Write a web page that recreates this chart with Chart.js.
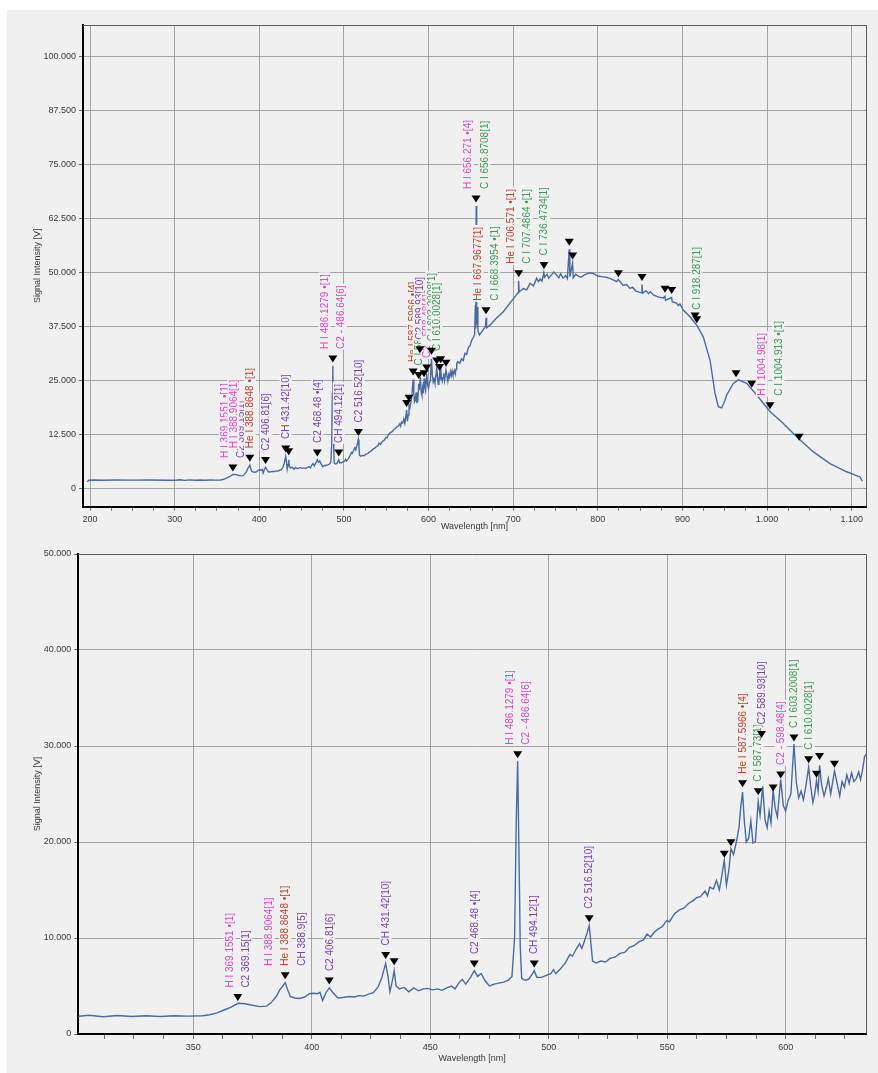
<!DOCTYPE html>
<html>
<head>
<meta charset="utf-8">
<script src="https://cdn.jsdelivr.net/npm/chart.js@4.4.1/dist/chart.umd.min.js"></script>
<style>
  body { margin: 0; background: #fff; }
  #panel { position: absolute; left: 7px; top: 10px; width: 871px; height: 1063px; background: #f0f0f0; }
  canvas { position: absolute; left: 7px; }
  #specFull { top: 10px; }
  #specZoom { top: 535px; }
</style>
</head>
<body>
<div id="panel"></div>
<canvas id="specFull" width="871" height="525"></canvas>
<canvas id="specZoom" width="871" height="538"></canvas>
<script>
// spectrum, wavelength in nm, signal in thousands (axis shows 12.500 etc.)
const wavelength = [
  196.8, 198.5, 205, 215, 230, 250, 270, 290, 301.5, 306,
  312, 318, 324, 330, 336, 342, 348, 354, 357,
  360, 363, 366, 369, 372, 375, 378, 381, 383, 385,
  386.5, 387.5, 388.8, 390, 391, 393, 395, 397, 399, 401,
  402.5, 403.5, 404.6, 406, 407.4, 409, 411, 413, 416, 418,
  420, 422, 424, 426, 428, 429.5, 431.2, 432.2, 433, 434,
  434.8, 435.6, 437, 439, 441, 443, 445, 447, 449,
  451, 453, 455, 457, 459, 460.5, 462, 463.5, 465, 467,
  468.6, 470, 471.5, 473, 475, 477, 479, 481, 483, 484.5,
  485.6, 486.3, 486.9, 487.4, 488, 488.6, 490, 491.5, 493, 493.9,
  495, 497, 499, 501, 502, 503, 505, 507, 509, 510,
  511.5, 513, 514, 515, 516.3, 517.1, 517.8, 518.5,
  520, 522, 524, 526, 528, 530, 532, 534, 536, 538,
  540, 541.5, 543, 544.5, 546, 548, 549.7, 551, 553, 555,
  557, 559, 561, 562.4, 564, 566, 567, 568, 569.5, 570.8,
  572, 573, 574.1, 575, 576, 576.9, 578, 579.2,
  580.3, 581, 581.8, 582.6, 583.4, 584.4, 585.3, 586.2, 587.2, 588.4,
  589.2, 590.3, 591.3, 592.2, 593, 593.8, 594.7, 595.6, 596.5, 597.9,
  599, 600, 601, 602.2, 603.5, 604.5, 605.5, 606.5, 607.5, 608.5,
  609.7, 610.6, 611.5, 612.3, 613, 613.7, 614.3, 615.2, 616.2, 617.2,
  618, 619, 620.6, 621.8, 622.8, 623.8, 624.8, 625.8, 626.8, 627.8,
  628.8, 629.8, 630.8, 631.6, 632.5, 633.3, 634.5,
  637, 639, 641, 643, 645, 647, 649, 651, 653, 654.5,
  655.3, 655.8, 656.3, 656.9, 657.6, 658.3, 660, 664, 667.3, 667.9,
  668.6, 672.6, 680, 688.4, 695, 702.2, 705.8, 706.4, 707.1, 712,
  716, 720, 724, 727.8, 730, 732, 734, 736.2, 737, 740,
  742, 745, 748, 751.4, 754, 756, 759, 762, 764, 766.2,
  767, 770.2, 771, 774, 776, 780, 785, 790, 794.7, 800,
  806.6, 810, 815, 822.3, 824.2, 830, 834, 838, 841, 845,
  851.5, 852.2, 853, 857, 860, 862, 865.6, 872, 877.4, 879.3,
  880, 887.2, 888, 893, 895, 897, 901, 908, 914.8, 916.9,
  924.6, 932.6, 938.5, 942.4, 946.4, 950, 952.3, 960.1, 966, 975.9,
  987.7, 1003.5, 1019.2, 1035, 1054.7, 1074.4, 1094.1, 1109.8, 1112.6
];
const signal = [
  1.45, 1.85, 1.9, 1.85, 1.9, 1.86, 1.9, 1.85, 1.85, 1.95,
  1.8, 1.92, 1.82, 1.9, 1.83, 1.9, 1.86, 1.9, 2.0,
  2.2, 2.5, 2.8, 3.2, 3.15, 3.0, 2.85, 2.9, 3.3, 3.9,
  4.6, 4.9, 5.35, 4.5, 3.9, 3.75, 3.7, 3.85, 4.2, 4.25,
  4.2, 4.35, 3.5, 4.3, 4.8, 4.3, 3.75, 3.8, 3.9, 3.85,
  4.0, 3.95, 4.15, 4.3, 4.9, 5.8, 7.35, 6.0, 4.4, 5.5,
  6.6, 5.0, 4.7, 4.85, 4.4, 4.8, 4.5, 4.7, 4.75,
  4.6, 4.7, 4.55, 4.8, 5.0, 4.7, 5.3, 5.7, 5.2, 5.9,
  6.6, 6.0, 6.3, 5.6, 5.0, 5.2, 5.3, 5.4, 5.6, 6.0,
  10, 22, 28.4, 20, 9, 5.8, 5.6, 5.7, 6.2, 6.6,
  5.9, 5.9, 6.1, 6.3, 6.7, 6.3, 6.8, 7.4, 8.3, 8.1,
  8.8, 9.4, 8.9, 9.6, 10.6, 11.3, 9.5, 7.6,
  7.4, 7.6, 7.5, 7.9, 8.0, 8.4, 8.5, 9.0, 9.2, 9.6,
  9.8, 10.4, 10.1, 10.6, 10.9, 11.2, 11.8, 11.7, 12.5, 12.9,
  13.1, 13.6, 13.9, 14.2, 14.3, 14.9, 14.4, 15.3, 15.1, 16.0,
  15.0, 16.4, 18.1, 15.5, 17.0, 19.3, 18.7, 20.0,
  21.5, 23.5, 25.2, 22.0, 20.0, 20.4, 22.2, 19.9, 20.0, 24.2,
  22.8, 25.8, 22.3, 21.5, 23.2, 22.0, 25.4, 23.5, 22.6, 26.5,
  23.8, 23.2, 24.3, 25.0, 30.2, 26.2, 24.6, 25.3, 24.4, 25.8,
  27.8, 25.7, 24.1, 25.0, 26.4, 25.3, 28.0, 25.9, 24.8, 25.7,
  26.6, 25.0, 27.4, 26.0, 24.8, 26.3, 25.7, 27.0, 26.1, 27.2,
  26.3, 26.6, 27.3, 26.5, 27.6, 28.9, 29.3,
  29.0, 30.0, 29.6, 31.3, 31.0, 32.6, 33.0, 34.3, 35.0, 35.6,
  42.4, 37.0, 65.4, 38.0, 42.0, 36.5, 35.5, 36.6, 37.5, 39.5,
  37.2, 37.8, 39.4, 40.9, 42.6, 44.4, 45.3, 48.1, 45.5, 46.3,
  46.0, 47.5, 46.9, 48.7, 47.9, 48.5, 48.0, 50.0, 48.9, 49.6,
  48.7, 49.4, 50.1, 49.4, 48.8, 49.7, 48.7, 49.3, 48.6, 55.4,
  49.0, 52.2, 48.8, 49.6, 49.3, 48.9, 49.5, 49.9, 49.8, 49.2,
  49.0, 48.9, 48.6, 47.9, 48.4, 47.0, 47.2, 46.3, 46.6, 45.7,
  45.3, 47.2, 45.2, 45.8, 45.1, 45.6, 44.8, 44.3, 44.1, 44.5,
  43.6, 44.2, 43.2, 42.9, 42.3, 42.7, 41.3, 39.9, 38.3, 37.8,
  35.1, 29.7, 22.0, 18.9, 18.6, 20.2, 21.6, 24.3, 25.1, 24.3,
  21.6, 17.8, 15.0, 11.9, 8.4, 5.7, 3.8, 2.6, 1.6
];

// peak markers (black triangles)
const markerWl = [368.8, 388.8, 407.4, 431.2, 434.8, 468.6, 486.9, 493.9, 517.1, 574.1,
  576.9, 581.8, 588.4, 589.8, 594.7, 597.9, 603.5, 609.7, 613.0, 614.3,
  620.6, 656.1, 667.9, 706.5, 736.4, 766.3, 770.3, 824.3, 852.2, 879.4,
  887.3, 914.9, 916.9, 963.3, 981.8, 1003.5, 1037.8];
const markerPeak = [3.06, 5.33, 4.78, 7.46, 6.80, 6.55, 28.35, 6.55, 11.28, 18.0,
  19.2, 25.34, 24.5, 30.48, 24.9, 26.26, 30.11, 27.84, 26.33, 28.17,
  27.36, 65.4, 39.5, 48.1, 50.0, 55.4, 52.2, 48.1, 47.2, 44.5,
  44.2, 38.3, 37.4, 24.9, 22.5, 17.5, 10.2];

// line identifications, each attached to a marker
const labelAt = [368.8, 368.8, 388.8, 388.8, 388.8, 407.4, 431.2, 468.6, 486.9, 486.9,
  493.9, 517.1, 581.8, 588.4, 589.8, 597.9, 603.5, 609.7, 656.1, 656.1,
  667.9, 667.9, 706.5, 706.5, 736.4, 916.9, 1003.5, 1003.5];
const labelText = ['H I 369.1551 •[1]', 'C2 369.15[1]', 'H I 388.9064[1]', 'He I 388.8648 •[1]', 'CH 388.9[5]',
  'C2 406.81[6]', 'CH 431.42[10]', 'C2 468.48 •[4]', 'H I 486.1279 •[1]', 'C2 - 486.64[6]',
  'CH 494.12[1]', 'C2 516.52[10]', 'He I 587.5966 •[4]', 'C I 587.73[1]', 'C2 589.93[10]',
  'C2 - 598.48[4]', 'C I 603.2008[1]', 'C I 610.0028[1]', 'H I 656.271 •[4]', 'C I 656.8708[1]',
  'He I 667.9677[1]', 'C I 668.3954 •[1]', 'He I 706.571 •[1]', 'C I 707.4864 •[1]', 'C I 736.4734[1]',
  'C I 918.287[1]', 'H I 1004.98[1]', 'C I 1004.913 •[1]'];
const labelSpecies = ['H', 'C2', 'H', 'He', 'CH', 'C2', 'CH', 'C2', 'H', 'C2-',
  'CH', 'C2', 'He', 'C', 'C2', 'C2-', 'C', 'C', 'H', 'C',
  'He', 'C', 'He', 'C', 'C', 'C', 'H', 'C'];

// axis ticks
const xMajorFull = [200, 300, 400, 500, 600, 700, 800, 900, 1000, 1100];
const xMajorZoom = [350, 400, 450, 500, 550, 600];
const yTicksFull = [0, 12.5, 25, 37.5, 50, 62.5, 75, 87.5, 100];
const yTicksZoom = [0, 10, 20, 30, 40, 50];

const speciesColor = { 'H': '#d84ac6', 'C2-': '#d84ac6', 'He': '#c0432a', 'C': '#3c9a56', 'C2': '#7a42b4', 'CH': '#7a42b4' };
const FONT = '"Liberation Sans", Arial, sans-serif';

function withMinor(majors, step, min, max) {
  const out = [];
  for (let v = majors[0] - step * Math.floor((majors[0] - min) / step); v <= max; v += step) {
    out.push({ value: Math.round(v * 100) / 100 });
  }
  return out;
}

function fmtThousands(v) {
  if (v >= 1000) return Math.floor(v / 1000) + '.' + String(v % 1000).padStart(3, '0');
  return String(v);
}

const lineMarks = {
  id: 'lineMarks',
  afterDatasetsDraw(chart) {
    const { ctx, chartArea: a, scales: { x, y } } = chart;
    const inRange = wl => wl >= x.min && wl <= x.max;
    const triY = wl => y.getPixelForValue(markerPeak[markerWl.indexOf(wl)]) - 7;
    ctx.save();
    ctx.beginPath();
    ctx.rect(a.left, a.top, a.right - a.left, a.bottom - a.top);
    ctx.clip();
    ctx.font = '10px ' + FONT;
    ctx.textBaseline = 'middle';
    labelAt.forEach((wl, i) => {
      if (!inRange(wl)) return;
      const group = [];
      labelAt.forEach((w, j) => { if (w === wl) group.push(j); });
      const k = group.indexOf(i);
      const px = x.getPixelForValue(wl) + (k - (group.length - 1) / 2) * 16.5;
      const py = triY(wl) - 10;
      const w = ctx.measureText(labelText[i]).width;
      ctx.save();
      ctx.translate(px, py);
      ctx.rotate(-Math.PI / 2);
      ctx.fillStyle = '#f0f0f0';
      ctx.fillRect(-1, -6, w + 3, 12);
      ctx.fillStyle = speciesColor[labelSpecies[i]];
      ctx.fillText(labelText[i], 0, 0.5);
      ctx.restore();
    });
    ctx.fillStyle = '#000';
    markerWl.forEach(wl => {
      if (!inRange(wl)) return;
      const cx = x.getPixelForValue(wl), cy = triY(wl);
      ctx.beginPath();
      ctx.moveTo(cx - 4.5, cy - 3.5);
      ctx.lineTo(cx + 4.5, cy - 3.5);
      ctx.lineTo(cx, cy + 3.5);
      ctx.closePath();
      ctx.fill();
    });
    ctx.restore();
  },
  afterDraw(chart) {
    // thin frame on top and right
    const { ctx, chartArea: a } = chart;
    ctx.save();
    ctx.strokeStyle = '#5a5a5a';
    ctx.lineWidth = 1;
    ctx.beginPath();
    ctx.moveTo(a.left, a.top + 0.5);
    ctx.lineTo(a.right + 0.5, a.top + 0.5);
    ctx.lineTo(a.right + 0.5, a.bottom);
    ctx.stroke();
    ctx.restore();
  }
};

function buildChart(id, o) {
  const font = { family: FONT, size: 9 };
  return new Chart(document.getElementById(id), {
    type: 'line',
    data: {
      datasets: [{
        data: wavelength.map((w, i) => ({ x: w, y: signal[i] })),
        borderColor: '#4a6aa3',
        borderWidth: 1.4,
        pointRadius: 0,
        tension: 0
      }]
    },
    options: {
      responsive: false,
      animation: false,
      devicePixelRatio: 1,
      layout: { padding: { left: 0, top: o.padTop, right: 12, bottom: 0 } },
      plugins: { legend: { display: false }, tooltip: { enabled: false } },
      scales: {
        x: {
          type: 'linear',
          min: o.xMin,
          max: o.xMax,
          border: { color: '#000', width: 2 },
          grid: {
            color: c => o.xMajor.includes(c.tick.value) ? '#a3a3a3' : 'rgba(0,0,0,0)',
            tickColor: '#6a6a6a',
            tickLength: o.xTickLen
          },
          ticks: {
            autoSkip: false,
            maxRotation: 0,
            padding: 3,
            color: '#3a3a3a',
            font: font,
            callback: v => o.xMajor.includes(v) ? fmtThousands(v) : ''
          },
          title: { display: true, text: 'Wavelength [nm]', color: '#3a3a3a', font: font, padding: { top: 0, bottom: o.xTitlePad } },
          afterBuildTicks: s => { s.ticks = withMinor(o.xMajor, o.xMinorStep, o.xMin, o.xMax); },
          afterFit: s => { s.height = o.xHeight; }
        },
        y: {
          min: o.yMin,
          max: o.yMax,
          border: { color: '#000', width: 2 },
          grid: { color: '#a3a3a3', tickColor: '#6a6a6a', tickLength: 4 },
          ticks: {
            padding: 3,
            color: '#3a3a3a',
            font: font,
            callback: v => v === 0 ? '0' : v.toFixed(3)
          },
          title: { display: true, text: 'Signal Intensity [V]', color: '#3a3a3a', font: font, padding: { top: 25, bottom: 0 } },
          afterBuildTicks: s => { s.ticks = o.yTicks.map(v => ({ value: v })); },
          afterFit: s => { s.width = o.yWidth; }
        }
      }
    },
    plugins: [lineMarks]
  });
}

buildChart('specFull', {
  xMin: 191.7, xMax: 1116.9, xMajor: xMajorFull, xMinorStep: 25,
  yMin: -4.3, yMax: 107.4, yTicks: yTicksFull,
  padTop: 15, yWidth: 76, xHeight: 28.3, xTickLen: 4, xTitlePad: 2.6
});
buildChart('specZoom', {
  xMin: 301.5, xMax: 633.9, xMajor: xMajorZoom, xMinorStep: 12.5,
  yMin: 0, yMax: 50, yTicks: yTicksZoom,
  padTop: 19, yWidth: 71.3, xHeight: 39, xTickLen: 5, xTitlePad: 9
});
</script>
</body>
</html>
